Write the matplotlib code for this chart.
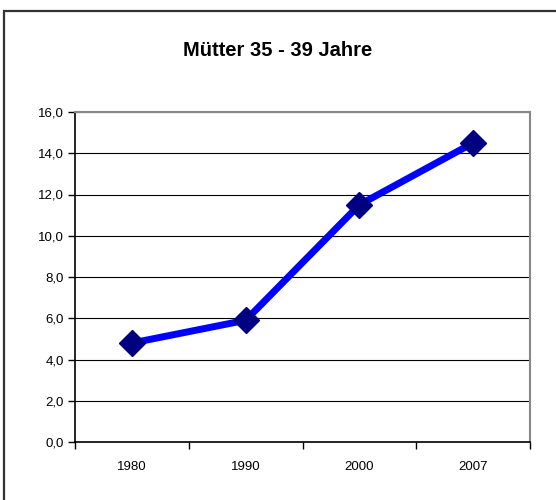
import matplotlib.pyplot as plt
from matplotlib.patches import Rectangle
from matplotlib.ticker import FuncFormatter, FixedLocator, MultipleLocator

years = ['1980', '1990', '2000', '2007']
values = [4.8, 5.9, 11.5, 14.5]
title = 'Mütter 35 - 39 Jahre'

plt.rcParams['font.family'] = ['Liberation Sans', 'DejaVu Sans']

fig = plt.figure(figsize=(5.56, 5.0), dpi=100)
ax = fig.add_axes([75 / 556, 1 - 442 / 500, 455 / 556, 330 / 500])

# outer chart frame (right and bottom edges fall outside the image)
fig.patches.append(Rectangle((3.5 / 556, -20 / 500), 580 / 556, 509 / 500,
                             transform=fig.transFigure, fill=False,
                             edgecolor='#333333', linewidth=1.6))

x = list(range(len(years)))
ax.plot(x, values, color='#0000FF', linewidth=5, marker='D', markersize=13.5,
        markerfacecolor='#000080', markeredgecolor='#000080', zorder=3)

ax.set_xlim(-0.5, len(years) - 0.5)
ax.set_ylim(0, 16)
ax.yaxis.set_major_locator(MultipleLocator(2))
ax.yaxis.set_major_formatter(FuncFormatter(lambda v, p: f'{v:.1f}'.replace('.', ',')))
ax.grid(axis='y', color='black', linewidth=0.8)
ax.set_axisbelow(True)

# category labels centred, ticks between categories
ax.set_xticks(x)
ax.set_xticklabels(years)
ax.xaxis.set_minor_locator(FixedLocator([i - 0.5 for i in range(len(years) + 1)]))
ax.tick_params(axis='x', which='major', length=0, pad=14, labelsize=9.5)
ax.tick_params(axis='x', which='minor', length=5, width=1, direction='out')
ax.tick_params(axis='y', length=5, width=1, direction='out', labelsize=9.5, pad=3)

for side in ['top', 'right']:
    ax.spines[side].set_color('#888888')
    ax.spines[side].set_linewidth(1.5)
for side in ['left', 'bottom']:
    ax.spines[side].set_color('black')
    ax.spines[side].set_linewidth(1.2)

fig.text(0.5, 1 - 50 / 500, title, ha='center', va='center',
         fontsize=14.5, fontweight='bold')

fig.savefig('out.png', dpi=100)
